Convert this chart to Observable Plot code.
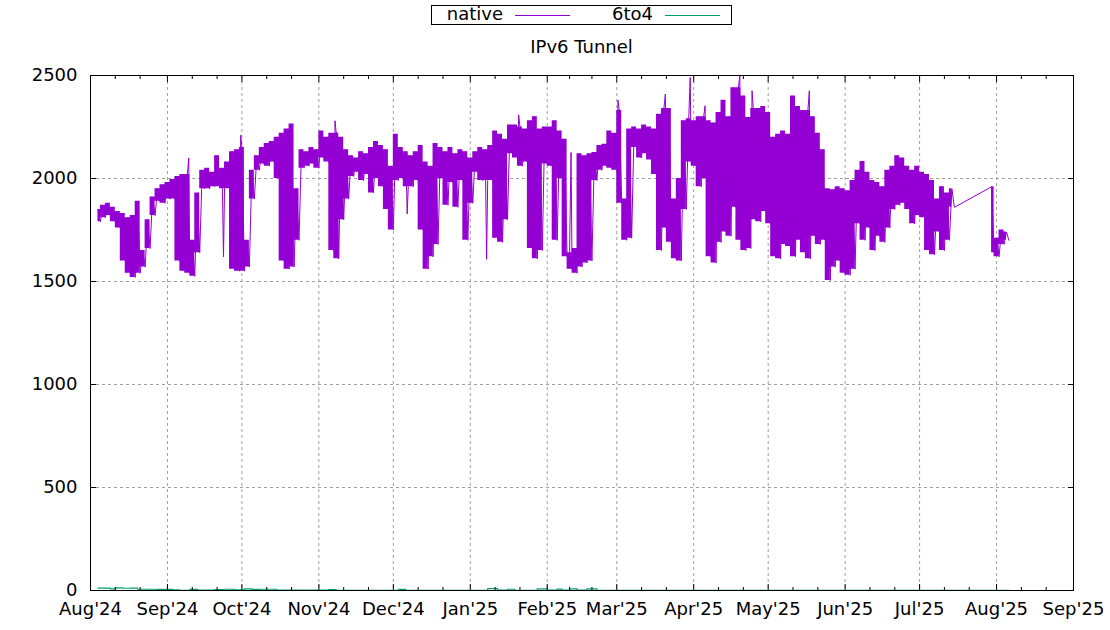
<!DOCTYPE html>
<html><head><meta charset="utf-8">
<script src="https://cdn.jsdelivr.net/npm/d3@7"></script>
<script src="https://cdn.jsdelivr.net/npm/@observablehq/plot@0.6"></script>
<style>
body{margin:0;background:#fff;font-family:"DejaVu Sans",sans-serif;}
#chart{width:1110px;}
#chart svg{display:block;}
</style></head><body><div id="chart"></div>
<script>
// ---- data ----
const chartTitle = "IPv6 Tunnel";
const seriesNames = ["native", "6to4"];
const seriesColors = ["#9400d3", "#009e73"];

const monthTicks = ["2024-08-01","2024-09-01","2024-10-01","2024-11-01","2024-12-01","2025-01-01","2025-02-01","2025-03-01","2025-04-01","2025-05-01","2025-06-01","2025-07-01","2025-08-01","2025-09-01"];
const minorTicks = ["2024-08-11","2024-08-21","2024-09-11","2024-09-21","2024-10-11","2024-10-21","2024-11-11","2024-11-21","2024-12-11","2024-12-21","2025-01-11","2025-01-21","2025-02-10","2025-02-19","2025-03-11","2025-03-21","2025-04-11","2025-04-21","2025-05-11","2025-05-21","2025-06-11","2025-06-21","2025-07-11","2025-07-21","2025-08-11","2025-08-21"];
const yTicks = [0, 500, 1000, 1500, 2000, 2500];

// native: sampled every ~2 days, upper and lower envelope of the dense trace
const nativeDates = [
 "2024-08-04","2024-08-06","2024-08-08","2024-08-10","2024-08-12","2024-08-14","2024-08-16","2024-08-18","2024-08-20","2024-08-22","2024-08-24","2024-08-26","2024-08-28","2024-08-30",
 "2024-09-01","2024-09-03","2024-09-05","2024-09-07","2024-09-09","2024-09-11","2024-09-13","2024-09-15","2024-09-17","2024-09-19","2024-09-21","2024-09-23","2024-09-25","2024-09-27","2024-09-29",
 "2024-10-01","2024-10-03","2024-10-05","2024-10-07","2024-10-09","2024-10-11","2024-10-13","2024-10-15","2024-10-17","2024-10-19","2024-10-21","2024-10-23","2024-10-25","2024-10-27","2024-10-29","2024-10-31",
 "2024-11-02","2024-11-04","2024-11-06","2024-11-08","2024-11-10","2024-11-12","2024-11-14","2024-11-16","2024-11-18","2024-11-20","2024-11-22","2024-11-24","2024-11-26","2024-11-28","2024-11-30",
 "2024-12-02","2024-12-04","2024-12-06","2024-12-08","2024-12-10","2024-12-12","2024-12-14","2024-12-16","2024-12-18","2024-12-20","2024-12-22","2024-12-24","2024-12-26","2024-12-28","2024-12-30",
 "2025-01-01","2025-01-03","2025-01-05","2025-01-07","2025-01-09","2025-01-11","2025-01-13","2025-01-15","2025-01-17","2025-01-19","2025-01-21","2025-01-23","2025-01-25","2025-01-27","2025-01-29","2025-01-31",
 "2025-02-02","2025-02-04","2025-02-06","2025-02-08","2025-02-10","2025-02-12","2025-02-14","2025-02-16","2025-02-18","2025-02-20","2025-02-22","2025-02-24","2025-02-26","2025-02-28",
 "2025-03-02","2025-03-04","2025-03-06","2025-03-08","2025-03-10","2025-03-12","2025-03-14","2025-03-16","2025-03-18","2025-03-20","2025-03-22","2025-03-24","2025-03-26","2025-03-28","2025-03-30",
 "2025-04-01","2025-04-03","2025-04-05","2025-04-07","2025-04-09","2025-04-11","2025-04-13","2025-04-15","2025-04-17","2025-04-19","2025-04-21","2025-04-23","2025-04-25","2025-04-27","2025-04-29",
 "2025-05-01","2025-05-03","2025-05-05","2025-05-07","2025-05-09","2025-05-11","2025-05-13","2025-05-15","2025-05-17","2025-05-19","2025-05-21","2025-05-23","2025-05-25","2025-05-27","2025-05-29","2025-05-31",
 "2025-06-02","2025-06-04","2025-06-06","2025-06-08","2025-06-10","2025-06-12","2025-06-14","2025-06-16","2025-06-18","2025-06-20","2025-06-22","2025-06-24","2025-06-26","2025-06-28","2025-06-30",
 "2025-07-02","2025-07-04","2025-07-06","2025-07-08","2025-07-10","2025-07-12","2025-07-14","2025-07-30",
 "2025-08-01","2025-08-03","2025-08-05"
];
const nativeHigh = [
 1850,1870,1880,1860,1840,1830,1810,1820,1890,1650,1800,1910,1950,1970,
 1980,1995,2010,2020,2020,1700,1930,2040,2050,2030,2110,2050,2080,2130,2140,
 2150,1700,2040,2110,2150,2170,2180,2200,2220,2240,2264,1950,2140,2130,2150,2140,
 2230,2200,2220,2220,2200,2140,2110,2100,2130,2120,2150,2180,2160,2140,2060,
 2215,2150,2130,2110,2130,2160,2080,2060,2170,2150,2130,2150,2120,2140,2130,
 2100,2130,2150,2140,2160,2230,2215,2190,2260,2260,2250,2240,2280,2300,2240,2250,
 2250,2280,2230,2190,1640,1660,2120,2110,2120,2126,2160,2166,2230,2220,
 2330,1900,2240,2250,2240,2260,2250,2240,2312,2340,2340,1900,2000,2280,2290,
 2280,2300,2300,2280,2270,2320,2380,2300,2440,2440,2400,2296,2340,2340,2350,
 2320,2200,2215,2230,2215,2400,2350,2330,2330,2300,2220,2140,1950,1945,1960,1950,
 1940,1990,2040,2083,2030,1990,1980,1960,2040,2060,2110,2100,2060,2040,2060,
 2030,2020,1990,1900,1960,1930,1950,1960,
 1710,1750,1740
];
const nativeLow = [
 1790,1810,1820,1790,1760,1600,1540,1520,1540,1570,1660,1820,1890,1880,
 1900,1900,1600,1550,1540,1525,1640,1950,1950,1960,1960,1950,1950,1560,1550,
 1550,1570,1900,2040,2070,2060,2080,2000,1600,1560,1570,1700,2050,2060,2070,2050,
 2100,2080,1650,1610,1800,1900,2010,2030,1990,2020,1930,2000,1960,1850,1750,
 1990,2000,1960,1960,1990,1750,1560,1620,1680,2000,1870,1980,1860,1990,1700,
 1880,2030,1990,1990,1990,1710,1690,1800,2120,2100,2060,2080,1660,1610,1650,2070,
 2060,1700,2000,1620,1560,1540,1570,1590,1600,1990,2040,2060,2050,2040,
 1880,1700,1710,2150,2100,2120,2090,2020,1650,1760,1690,1610,1600,1850,2080,
 2060,1960,2000,1620,1590,1690,1740,1720,1860,1700,1650,1660,1800,1790,1840,
 1780,1620,1610,1680,1670,1620,1700,1640,1610,1720,1680,1700,1505,1570,1600,1540,
 1530,1560,1780,1700,1760,1650,1720,1690,1760,1850,1870,1880,1850,1780,1820,
 1810,1650,1630,1740,1650,1700,1860,1640,
 1620,1680,1700
];
// isolated single-sample excursions (thin spikes) of the native trace
const nativeSpikeDates = ["2024-09-09T14:00","2024-09-23T14:00","2024-09-30T12:00","2024-11-07T12:00","2024-12-06T14:00","2025-01-07T14:00","2025-01-20T12:00","2025-02-10T14:00","2025-03-01T12:00","2025-03-20T14:00","2025-03-30T14:00","2025-04-05T14:00","2025-04-19T14:00","2025-04-24T12:00","2025-05-17T14:00"];
const nativeSpikeValues = [2100,1620,2210,2280,1828,1608,2309,2126,2380,2410,2490,2353,2500,2426,2426];
// the trace has no data between these two dates (a straight join is drawn)
const nativeGap = ["2025-07-15", "2025-07-30"];

// 6to4: small values near zero
const tunnelDates = ["2024-08-04","2024-08-09","2024-08-11","2024-08-14","2024-08-17","2024-08-20","2024-08-28","2024-09-03","2024-09-06","2024-09-10","2024-09-13","2024-09-20","2024-09-24","2024-09-28","2024-10-02","2024-10-05","2024-10-08","2024-10-15","2024-10-25","2024-11-05","2024-11-08","2024-12-03","2024-12-06","2025-01-08","2025-01-12","2025-01-16","2025-01-19","2025-01-28","2025-02-01","2025-02-05","2025-02-07","2025-02-10","2025-02-13","2025-02-17","2025-02-21","2025-03-10","2025-04-15","2025-05-20","2025-06-20","2025-07-15","2025-08-06"];
const tunnelValues = [12,8,13,11,12,6,5,3,1,5,2,4,6,3,8,5,6,2,2,4,1,5,1,9,2,6,1,8,2,7,2,8,2,8,1,1,1,1,1,1,1];

// ---- build tables ----
const DAY = 86400000;
const nativePts = [];
nativeDates.forEach((d, i) => {
  const t = new Date(d);
  nativePts.push({t, v: nativeHigh[i]});
  nativePts.push({t: new Date(+t + DAY), v: nativeLow[i]});
});
nativeSpikeDates.forEach((d, i) => nativePts.push({t: new Date(d + "Z"), v: nativeSpikeValues[i]}));
nativePts.sort((a, b) => a.t - b.t);
const gapEnd = nativeGap[1];
const nativeBand = nativeDates.map((d, i) => ({t: new Date(d), lo: nativeLow[i], hi: nativeHigh[i], seg: d >= gapEnd ? 1 : 0}));
const tunnelPts = tunnelDates.map((d, i) => ({t: new Date(d), v: tunnelValues[i]}));
const months = monthTicks.map(d => new Date(d));
const minors = minorTicks.map(d => new Date(d));
const innerMonths = months.slice(1, -1);
const yGrid = yTicks.slice(1, -1);

// ---- header: legend + title ----
const header = d3.create("svg").attr("width", 1110).attr("height", 60)
  .style("display", "block").style("font-family", '"DejaVu Sans", sans-serif').style("font-size", "18px");
header.append("rect").attr("x", 431.5).attr("y", 5.5).attr("width", 300).attr("height", 19)
  .attr("fill", "none").attr("stroke", "black");
const textEnds = [503, 653];
seriesNames.forEach((name, i) => {
  header.append("text").attr("x", textEnds[i]).attr("y", 20).attr("text-anchor", "end").attr("fill", "black").text(name);
  header.append("line").attr("x1", textEnds[i] + 12).attr("x2", textEnds[i] + 67)
    .attr("y1", 15.5).attr("y2", 15.5).attr("stroke", seriesColors[i]).attr("stroke-width", 1);
});
header.append("text").attr("x", 581.5).attr("y", 53).attr("text-anchor", "middle").attr("fill", "black").text(chartTitle);

// ---- plot ----
const gridStyle = {stroke: "#a0a0a0", strokeOpacity: 1, strokeDasharray: "3,3", strokeWidth: 1};
const chart = Plot.plot({
  width: 1110, height: 570,
  marginTop: 15, marginBottom: 40, marginLeft: 90, marginRight: 37,
  style: {fontFamily: '"DejaVu Sans", sans-serif', fontSize: "18px", color: "black", background: "white", overflow: "visible"},
  x: {type: "utc", domain: [months[0], months[months.length - 1]]},
  y: {domain: [0, 2500]},
  marks: [
    Plot.gridX(innerMonths, gridStyle),
    Plot.gridY(yGrid, gridStyle),
    Plot.line(tunnelPts, {x: "t", y: "v", stroke: seriesColors[1], strokeWidth: 1.2, curve: "step-after"}),
    Plot.areaY(nativeBand, {x: "t", y1: "lo", y2: "hi", z: "seg", fill: seriesColors[0], curve: "step"}),
    Plot.line(nativePts, {x: "t", y: "v", stroke: seriesColors[0], strokeWidth: 1}),
    Plot.frame({stroke: "black"}),
    Plot.axisX(months, {tickSize: 0, tickPadding: 12, tickFormat: d3.utcFormat("%b'%y"), label: null}),
    Plot.axisX(months, {anchor: "bottom", tickSize: 6, dy: -6, fill: null, label: null}),
    Plot.axisX(months, {anchor: "top", tickSize: 6, dy: 6, fill: null, label: null}),
    Plot.axisX(minors, {anchor: "bottom", tickSize: 3, dy: -3, fill: null, label: null}),
    Plot.axisX(minors, {anchor: "top", tickSize: 3, dy: 3, fill: null, label: null}),
    Plot.axisY(yTicks, {tickSize: 0, tickPadding: 13, tickFormat: d3.format("d"), label: null}),
    Plot.axisY(yTicks, {anchor: "left", tickSize: 6, dx: 6, fill: null, label: null}),
    Plot.axisY(yTicks, {anchor: "right", tickSize: 6, dx: -6, fill: null, label: null})
  ]
});
const root = document.getElementById("chart");
root.appendChild(header.node());
root.appendChild(chart);
</script></body></html>
